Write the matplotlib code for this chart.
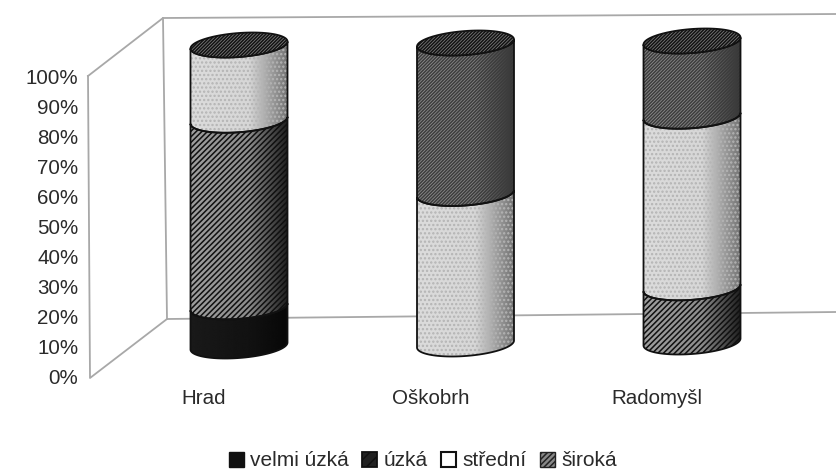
import numpy as np
import matplotlib
matplotlib.use("Agg")
import matplotlib.pyplot as plt
from matplotlib.lines import Line2D
from matplotlib.patches import Patch, PathPatch
from matplotlib.path import Path

categories = ["Hrad", "Oškobrh", "Radomyšl"]
series_names = ["velmi úzká", "úzká", "střední", "široká"]
velmi_uzka = [13, 0, 0]
uzka = [62, 0, 18]
stredni = [25, 50, 57]
siroka = [0, 50, 25]
y_ticks = list(range(0, 101, 10))

plt.rcParams["font.family"] = ["Liberation Sans", "DejaVu Sans"]
plt.rcParams["hatch.linewidth"] = 1.1
W, H = 836, 471
TEXT = "#2a2a2a"
GRID = "#a8a8a8"

fig = plt.figure(figsize=(W / 100, H / 100), dpi=100, facecolor="white")
Y0, Y100 = 377, 76
X0, DX = 204, 226.5
AL, AR = 88, 836
uy = 100 / (Y0 - Y100)  # data units per pixel, y
ux = 1 / DX             # data units per pixel, x
ax = fig.add_axes([AL / W, 1 - Y0 / H, (AR - AL) / W, Y0 / H])
ylim = (0, Y0 * uy)
xlim = ((AL - X0) / DX, (AR - X0) / DX)
ax.set_xlim(*xlim)
ax.set_ylim(*ylim)
ax.patch.set_alpha(0)
for s in ax.spines.values():
    s.set_visible(False)


def px(points):
    return [(x / W, 1 - y / H) for x, y in points]


def wall(points):
    xy = np.array(px(points))
    fig.add_artist(Line2D(xy[:, 0], xy[:, 1], color=GRID, lw=1.3, zorder=0))


wall([(88, 76), (163, 18), (836, 14)])
wall([(88, 76), (90, 378), (167, 319), (836, 312)])
wall([(163, 18), (167, 319)])

half_w = 48.5 * ux
ry = 12 * uy
tilt = 3.5 * uy      # scan tilt: right side higher than left

styles = [
    dict(g=(0.10, 0.07, 0.03), hatch=None, ec="black"),
    dict(g=(0.62, 0.55, 0.12), hatch="//////", ec="#101010"),
    dict(g=(0.86, 0.84, 0.45), hatch="....", ec="#b4b4b4"),
    dict(g=(0.56, 0.52, 0.20), hatch="//////////", ec="#3c3c3c"),
]

t = np.linspace(np.pi, 2 * np.pi, 60)   # lower front arc, left to right
tt = np.linspace(0, 2 * np.pi, 120)


def seg_path(cx, y0, y1):
    xs = cx + half_w * np.cos(t)
    low = y0 + ry * np.sin(t) + tilt * np.cos(t)
    up = y1 + ry * np.sin(t) + tilt * np.cos(t)
    verts = np.r_[np.c_[xs, low], np.c_[xs[::-1], up[::-1]], [[xs[0], low[0]]]]
    return Path(verts, closed=True)


def gradient(cx, y0, y1, style, path):
    a, b, c = style["g"]
    u = np.linspace(0, 1, 200)
    v = np.interp(u, [0, 0.6, 1], [a, b, c]).reshape(1, -1)
    im = ax.imshow(v, cmap="gray", vmin=0, vmax=1, aspect="auto", zorder=3,
                   interpolation="bilinear",
                   extent=(cx - half_w, cx + half_w, y0 - 2 * ry, y1 + 2 * ry))
    patch = PathPatch(path, transform=ax.transData, fc="none", ec="none")
    ax.add_patch(patch)
    im.set_clip_path(patch)


stack = [velmi_uzka, uzka, stredni, siroka]
for i, name in enumerate(categories):
    cx = i + 35 * ux
    shift = (31 + 2 * i) * uy
    bottom = 0.0
    for k, values in enumerate(stack):
        val = values[i]
        if val <= 0:
            continue
        st = styles[k]
        y0, y1 = bottom + shift, bottom + val + shift
        path = seg_path(cx, y0, y1)
        gradient(cx, y0, y1, st, path)
        if st["hatch"]:
            ax.add_patch(PathPatch(path, fc="none", ec=st["ec"], hatch=st["hatch"],
                                   lw=0, zorder=4))
        ax.add_patch(PathPatch(path, fc="none", ec="#111111", lw=1.3, zorder=5))
        bottom += val
    top = bottom + shift
    ex = cx + half_w * np.cos(tt)
    ey = top + ry * np.sin(tt) + tilt * np.cos(tt)
    ax.fill(ex, ey, fc="#7a7a7a", ec="#111111", lw=1.3, hatch="//////////", zorder=6)

ax.set_xticks(range(len(categories)))
ax.set_xticklabels(categories, fontsize=14.8, color=TEXT)
ax.set_yticks(y_ticks)
ax.set_yticklabels([f"{v}%" for v in y_ticks], fontsize=14.8, color=TEXT)
ax.tick_params(axis="both", length=0)
ax.tick_params(axis="y", pad=7)
ax.tick_params(axis="x", pad=9)

handles = [
    Patch(fc="#111111", ec="#111111"),
    Patch(fc="#222222", ec="#111111", hatch="///", lw=1.3),
    Patch(fc="white", ec="#111111", lw=1.5),
    Patch(fc="#888888", ec="#222222", hatch="//////", lw=1),
]
ax.legend(handles, series_names, ncol=4, frameon=False, fontsize=15,
          labelcolor=TEXT, handlelength=0.72, handleheight=0.72,
          handletextpad=0.3, columnspacing=0.65, borderpad=0,
          loc="center", bbox_to_anchor=((423 - AL) / (AR - AL), (Y0 - 461) / Y0))

ax.set_xlim(*xlim)
ax.set_ylim(*ylim)
fig.savefig("out.png", dpi=100)
